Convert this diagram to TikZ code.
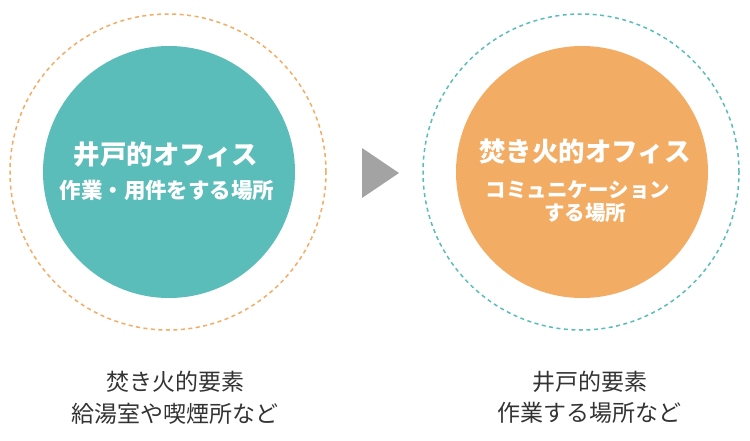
\documentclass[tikz,border=0pt]{standalone}
\usepackage{fontspec}
\newfontfamily\jp{Noto Sans CJK JP}
\definecolor{teal1}{HTML}{5BBDB9}
\definecolor{orange1}{HTML}{F3AC63}
\definecolor{tri}{HTML}{A3A3A3}
\definecolor{txt}{HTML}{333333}
\begin{document}
\begin{tikzpicture}[x=1pt,y=-1pt,
  ring/.style={circle,draw,line width=1.5pt,dash pattern=on 4pt off 3.5pt,minimum size=316pt,inner sep=0pt},
  disc/.style={circle,minimum size=252pt,inner sep=0pt},
  title/.style={text=white,font=\jp\bfseries\fontsize{26.5}{30}\selectfont,inner sep=0pt},
  sub/.style={text=white,font=\jp\bfseries\fontsize{20.5}{24}\selectfont,inner sep=0pt},
  bottom/.style={text=txt,font=\jp\fontsize{23}{27}\selectfont,inner sep=0pt}]
\useasboundingbox (0,0) rectangle (750,440);
% left
\node[ring,draw=orange1] (lring) at (168,172) {};
\node[disc,fill=teal1] (ldisc) at (169,172) {};
\node[title] (ltitle) at (166,155) {井戸的オフィス};
\node[sub,font=\jp\bfseries\fontsize{21.5}{24}\selectfont] (lsub) at (167,190) {作業・用件をする場所};
% right
\node[ring,draw=teal1] (rring) at (581,172) {};
\node[disc,fill=orange1] (rdisc) at (582,172) {};
\node[title] (rtitle) at (585,152) {焚き火的オフィス};
\node[sub] (rsub1) at (578,190) {コミュニケーション};
\node[sub] (rsub2) at (585,213) {する場所};
% arrow
\coordinate (t1) at (362,148);
\coordinate (t2) at (399,173);
\coordinate (t3) at (362,198);
\fill[tri] (t1) -- (t2) -- (t3) -- cycle;
% bottom texts
\node[bottom] (lb1) at (175,382) {焚き火的要素};
\node[bottom] (lb2) at (175,414) {給湯室や喫煙所など};
\node[bottom] (rb1) at (590,382) {井戸的要素};
\node[bottom] (rb2) at (589,413) {作業する場所など};
\end{tikzpicture}
\end{document}
